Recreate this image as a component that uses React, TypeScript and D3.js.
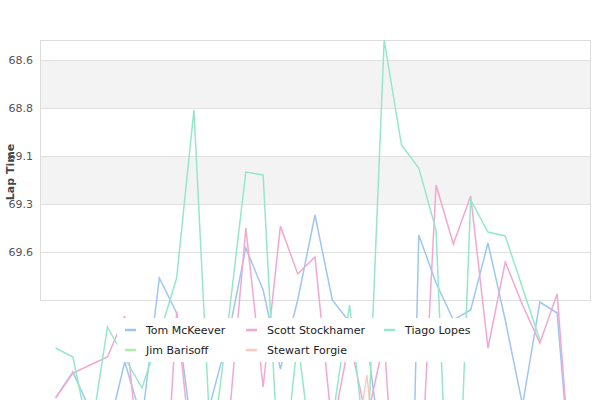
import React, { useEffect, useRef } from "react";
import * as d3 from "d3";

// lap numbers along the x axis
const laps = [1, 2, 3, 4, 5, 6, 7, 8, 9, 10, 11, 12, 13, 14, 15, 16, 17, 18, 19, 20, 21, 22, 23, 24, 25, 26, 27, 28, 29, 30, 31];

const drivers = ["Tom McKeever", "Jim Barisoff", "Scott Stockhamer", "Stewart Forgie", "Tiago Lopes"];

// lap times (seconds); many fall below the plot
const tomMcKeever = [70.29, 70.16, 70.35, 70.47, 70.11, 70.4, 69.69, 69.865, 70.535, 70.3, 69.975, 69.54, 69.75, 70.145, 69.8, 69.375, 69.8, 69.91, 70.0, 70.665, 73.15, 69.475, 69.715, 69.9, 69.85, 69.515, 69.9, 70.325, 69.81, 69.865, 70.9];
const jimBarisoff = [70.9, 70.7, 70.8, 71.0, 70.6, 70.9, 71.2, 70.8, 70.7, 71.1, 70.9, 70.6, 70.8, 71.0, 70.7, 70.9, 71.3, 70.8, 70.6, 70.9, 71.0, 70.7, 70.8, 71.1, 70.6, 70.9, 70.8, 71.2, 70.7, 70.9, 71.0];
const scottStockhamer = [70.29, 70.165, 70.125, 70.085, 69.88, 70.75, 71.3, 69.86, 70.7, 71.3, 70.43, 69.44, 70.235, 69.43, 69.67, 69.585, 70.45, 70.0, 70.4, 70.0, 71.3, 70.9, 69.225, 69.52, 69.28, 70.04, 69.61, 69.825, 70.015, 69.77, 70.9];
const stewartForgie = [71.4, 71.2, 71.5, 71.1, 71.3, 71.6, 71.2, 71.4, 71.0, 71.3, 71.5, 71.2, 71.1, 71.4, 71.3, 71.2, 71.5, 70.75, 70.175, 71.0, 71.3, 71.2, 71.4, 71.1, 71.3, 71.5, 71.2, 71.0, 71.4, 71.3, 71.6];
const tiagoLopes = [70.04, 70.085, 70.5, 69.935, 70.09, 70.24, 69.975, 69.69, 68.85, 70.585, 69.895, 69.16, 69.175, 70.8, 70.0, 70.7, 70.4, 69.825, 70.615, 68.5, 69.025, 69.14, 69.45, 71.55, 69.3, 69.46, 69.48, 69.74, 70.0];

const seriesValues = [tomMcKeever, jimBarisoff, scottStockhamer, stewartForgie, tiagoLopes];
const seriesColors = ["#9ec6f3", "#acedaa", "#f4a7cf", "#f7cbc4", "#95e8c7"];

const yTicks = [68.6, 68.84, 69.08, 69.32, 69.56];
const yDomain = [68.5, 69.8];

export default function App() {
    const svgRef = useRef<SVGSVGElement>(null);

    useEffect(() => {
        if (!svgRef.current) return;
        const svg = d3.select(svgRef.current);
        svg.selectAll("*").remove();

        const width = 600;
        const height = 400;
        const margin = { top: 40, right: 10, bottom: 100, left: 40 };
        const innerW = width - margin.left - margin.right;
        const innerH = height - margin.top - margin.bottom;

        const x = d3.scalePoint<number>()
            .domain(laps)
            .range([margin.left, margin.left + innerW])
            .padding(0.9);

        // lap time axis runs downward: faster laps at the top
        const y = d3.scaleLinear()
            .domain(yDomain)
            .range([margin.top, margin.top + innerH]);

        // alternating bands
        for (let i = 0; i < yTicks.length - 1; i += 2) {
            svg.append("rect")
                .attr("x", margin.left)
                .attr("y", y(yTicks[i]))
                .attr("width", innerW)
                .attr("height", y(yTicks[i + 1]) - y(yTicks[i]))
                .attr("fill", "#f3f3f3");
        }

        // grid lines
        svg.append("g")
            .selectAll("line")
            .data(yTicks)
            .join("line")
            .attr("x1", margin.left)
            .attr("x2", margin.left + innerW)
            .attr("y1", d => Math.round(y(d)) + 0.5)
            .attr("y2", d => Math.round(y(d)) + 0.5)
            .attr("stroke", "#e0e0e0");

        // plot border
        svg.append("rect")
            .attr("x", margin.left + 0.5)
            .attr("y", margin.top + 0.5)
            .attr("width", innerW)
            .attr("height", innerH)
            .attr("fill", "none")
            .attr("stroke", "#dddddd");

        // y tick labels
        svg.append("g")
            .selectAll("text")
            .data(yTicks)
            .join("text")
            .attr("x", margin.left - 7)
            .attr("y", d => y(d))
            .attr("dy", "0.35em")
            .attr("text-anchor", "end")
            .attr("font-family", "DejaVu Sans, sans-serif")
            .attr("font-size", 11)
            .attr("fill", "#555")
            .text(d => d3.format(".1f")(d));

        svg.append("text")
            .attr("transform", `translate(14,${margin.top + innerH / 2 + 2}) rotate(-90)`)
            .attr("text-anchor", "middle")
            .attr("font-family", "DejaVu Sans, sans-serif")
            .attr("font-size", 11)
            .attr("font-weight", "bold")
            .attr("fill", "#444")
            .text("Lap Time");

        // lines (not clipped to the plot area)
        const line = d3.line<number>()
            .x((_, i) => x(laps[i])!)
            .y(d => y(d));

        seriesValues.forEach((values, i) => {
            svg.append("path")
                .datum(values)
                .attr("fill", "none")
                .attr("stroke", seriesColors[i])
                .attr("stroke-width", 1.5)
                .attr("d", line);
        });

        // legend
        const legend = svg.append("g").attr("transform", "translate(117,318)");
        legend.append("rect")
            .attr("width", 363)
            .attr("height", 44)
            .attr("fill", "#fff");

        const colX = [8, 129, 267];
        drivers.forEach((name, i) => {
            const col = Math.floor(i / 2);
            const row = i % 2;
            const item = legend.append("g")
                .attr("transform", `translate(${colX[col]},${12 + row * 20})`);
            item.append("line")
                .attr("x1", 0)
                .attr("x2", 11)
                .attr("stroke", seriesColors[i])
                .attr("stroke-width", 2.5);
            item.append("text")
                .attr("x", 21)
                .attr("dy", "0.35em")
                .attr("font-family", "DejaVu Sans, sans-serif")
                .attr("font-size", 11)
                .attr("fill", "#222")
                .text(name);
        });
    }, []);

    return (
        <div style={{ position: "absolute", left: 0, top: 0 }}>
            <svg ref={svgRef} width={600} height={400} />
        </div>
    );
}
